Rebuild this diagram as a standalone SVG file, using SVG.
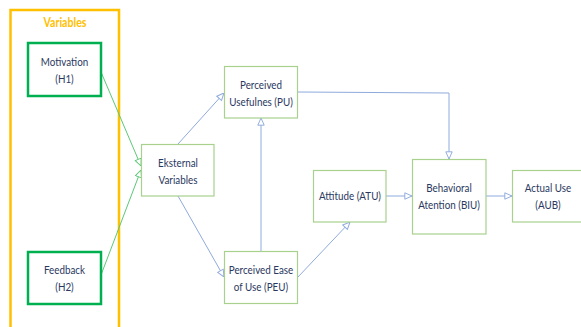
<svg xmlns="http://www.w3.org/2000/svg" width="581" height="327" viewBox="0 0 581 327">
<defs>
<style>
.n{fill:#fff;stroke:#A9D18E;stroke-width:1.2}
.g{fill:#fff;stroke:#00B050;stroke-width:2.5}
.t{font-family:Lato,"Open Sans",sans-serif;font-size:12px;fill:#2A3860;text-anchor:middle}
.c{fill:none;stroke:#8FAADC;stroke-width:1}
.cg{fill:none;stroke:#5CC878;stroke-width:1}
</style>
<marker id="a" viewBox="0 0 10 10" refX="10" refY="5" markerWidth="8" markerHeight="8" orient="auto" markerUnits="userSpaceOnUse">
<path d="M1,1 L10,5 L1,9 Z" fill="#fff" stroke="#8FAADC" stroke-width="1.2"/>
</marker>
<marker id="ag" viewBox="0 0 10 10" refX="10" refY="5" markerWidth="8" markerHeight="8" orient="auto" markerUnits="userSpaceOnUse">
<path d="M1,1 L10,5 L1,9 Z" fill="#fff" stroke="#5CC878" stroke-width="1.2"/>
</marker>
</defs>
<rect width="581" height="327" fill="#fff"/>
<g id="variables">
<rect x="10.5" y="10" width="108.5" height="325" fill="none" stroke="#FFC000" stroke-width="2.5"/>
<text transform="translate(65,27) scale(0.85,1)" font-family="Lato,'Open Sans',sans-serif" font-size="12.5" font-weight="bold" fill="#FFC000" text-anchor="middle">Variables</text>
</g>
<g id="connectors">
<path class="cg" d="M101,72 L141,166" marker-end="url(#ag)"/>
<path class="cg" d="M101,275 L141,170" marker-end="url(#ag)"/>
<path class="c" d="M178,144 L224,93" marker-end="url(#a)"/>
<path class="c" d="M178,196 L224,277" marker-end="url(#a)"/>
<path class="c" d="M261,252 L261,118" marker-end="url(#a)"/>
<path class="c" d="M298,277 L350,222" marker-end="url(#a)"/>
<path class="c" d="M298,92 L449,93 L449,159" marker-end="url(#a)"/>
<path class="c" d="M386,196 L412,196" marker-end="url(#a)"/>
<path class="c" d="M486,196 L512,196" marker-end="url(#a)"/>
</g>
<g id="motivation">
<rect class="g" x="28" y="43" width="73" height="53"/>
<text class="t" transform="translate(64.5,66) scale(0.82,1)">Motivation</text>
<text class="t" transform="translate(64.5,83) scale(0.82,1)">(H1)</text>
</g>
<g id="feedback">
<rect class="g" x="28" y="252" width="73" height="52"/>
<text class="t" transform="translate(64.5,274) scale(0.82,1)">Feedback</text>
<text class="t" transform="translate(64.5,291) scale(0.82,1)">(H2)</text>
</g>
<g id="eksternal">
<rect class="n" x="141.5" y="144.5" width="72.5" height="51.5"/>
<text class="t" transform="translate(178,167) scale(0.82,1)">Eksternal</text>
<text class="t" transform="translate(178,184) scale(0.82,1)">Variables</text>
</g>
<g id="pu">
<rect class="n" x="224.5" y="66.5" width="73" height="51.5"/>
<text class="t" transform="translate(261,89) scale(0.82,1)">Perceived</text>
<text class="t" transform="translate(261,106) scale(0.82,1)">Usefulnes (PU)</text>
</g>
<g id="peu">
<rect class="n" x="224.5" y="251.5" width="73" height="52"/>
<text class="t" transform="translate(261,274) scale(0.82,1)">Perceived Ease</text>
<text class="t" transform="translate(261,291) scale(0.82,1)">of Use (PEU)</text>
</g>
<g id="atu">
<rect class="n" x="313.5" y="170.5" width="72.5" height="51.5"/>
<text class="t" transform="translate(350,200) scale(0.82,1)">Attitude (ATU)</text>
</g>
<g id="biu">
<rect class="n" x="412.5" y="159.5" width="73.5" height="74.5"/>
<text class="t" transform="translate(449,192) scale(0.82,1)">Behavioral</text>
<text class="t" transform="translate(449,209) scale(0.82,1)">Atention (BIU)</text>
</g>
<g id="aub">
<rect class="n" x="512.5" y="170.5" width="75" height="51.5"/>
<text class="t" transform="translate(548,192) scale(0.82,1)">Actual Use</text>
<text class="t" transform="translate(548,209) scale(0.82,1)">(AUB)</text>
</g>
</svg>
